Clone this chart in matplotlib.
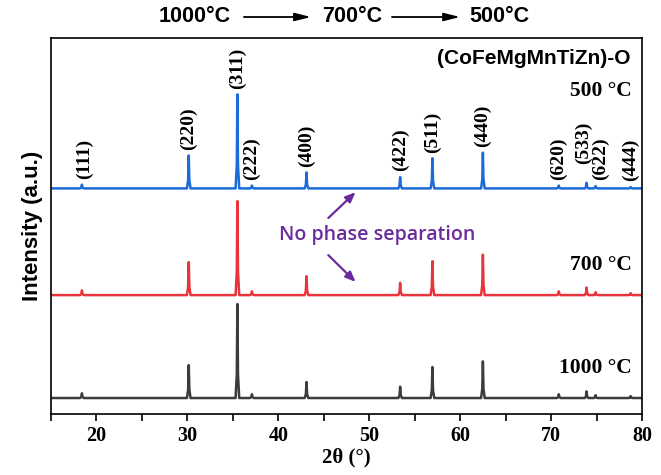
import matplotlib
matplotlib.use("Agg")
import matplotlib.pyplot as plt

# XRD peaks of the spinel (CoFeMgMnTiZn)-O
two_theta = [18.4, 30.15, 35.5, 37.1, 43.1, 53.4, 56.95, 62.5, 70.85, 73.9, 74.9, 78.75]
hkl = ["(111)", "(220)", "(311)", "(222)", "(400)", "(422)", "(511)", "(440)",
       "(620)", "(533)", "(622)", "(444)"]

# relative peak heights, (311) = 100
int_500 = [4, 35, 100, 3, 17, 12, 32, 38, 3, 6, 2.5, 1.5]
int_700 = [5, 35, 100, 4, 20, 13, 36, 43, 4, 8, 3, 2]
int_1000 = [5, 35, 100, 4, 17, 12, 33, 39, 4, 7, 3, 2]

# stacking offsets of the three patterns
offset_1000 = 17
offset_700 = 126.5
offset_500 = 240

temps = ["1000 °C", "700 °C", "500 °C"]

SERIF = "Liberation Serif"
SANS = "Liberation Sans"


def pattern(base, heights, hw=0.2):
    xs, ys = [15], [base]
    for p, h in zip(two_theta, heights):
        xs += [p - hw, p - hw / 3, p, p + hw / 3, p + hw]
        ys += [base, base + h * 0.25, base + h, base + h * 0.25, base]
    xs.append(80)
    ys.append(base)
    return xs, ys


fig = plt.figure(figsize=(6.61, 4.75), dpi=100)
ax = fig.add_axes([51 / 661, 61 / 475, 591 / 661, 376 / 475])

for base, heights, color in [
    (offset_1000, int_1000, "#3c3c3c"),
    (offset_700, int_700, "#e8343a"),
    (offset_500, int_500, "#1c6cd8"),
]:
    xs, ys = pattern(base, heights)
    ax.plot(xs, ys, color=color, lw=1.8)

ax.set_xlim(15, 80)
ax.set_ylim(0, 400)
ax.set_xticks(range(20, 81, 10))
ax.set_xticks(range(15, 81, 5), minor=True)
ax.set_yticks([])
ax.tick_params(axis="x", which="both", direction="out", length=5, width=1.2)
for lab in ax.get_xticklabels():
    lab.set_fontfamily(SERIF)
    lab.set_fontweight("bold")
    lab.set_fontsize(14.5)
for sp in ax.spines.values():
    sp.set_linewidth(1.2)

ax.set_xlabel("2θ (°)", fontfamily=SERIF, fontweight="bold", fontsize=15, labelpad=1)
ax.set_ylabel("Intensity (a.u.)", fontfamily=SANS, fontweight="bold", fontsize=16, labelpad=6)

# hkl labels above the 500 °C pattern
label_shift = {"(533)": (-0.3, 14), "(622)": (0.5, 0), "(111)": (0.3, 0)}
for p, h, name in zip(two_theta, int_500, hkl):
    dx, dy = label_shift.get(name, (0, 0))
    ax.text(p + dx, offset_500 + h + 6 + dy, name, rotation=90, ha="center", va="bottom",
            fontfamily=SERIF, fontweight="bold", fontsize=14)

# temperature labels
for base, lift, t in zip([offset_1000, offset_700, offset_500], [32, 32, 104], temps):
    ax.text(78.9, base + lift, t, ha="right", va="center",
            fontfamily=SERIF, fontweight="bold", fontsize=15.5)

ax.text(78.7, 378, "(CoFeMgMnTiZn)-O", ha="right", va="center",
        fontfamily=SANS, fontweight="bold", fontsize=15)

purple = "#6a2c9c"
ax.text(50.9, 190, "No phase separation", ha="center", va="center",
        fontfamily="Open Sans", fontweight="semibold", fontsize=14, color=purple)
arrow_kw = dict(arrowstyle="-|>,head_length=0.6,head_width=0.25", color=purple, lw=1.6,
                shrinkA=0, shrinkB=0, mutation_scale=10)
ax.annotate("", xy=(48.5, 236), xytext=(45.5, 208.5), arrowprops=arrow_kw)
ax.annotate("", xy=(48.5, 140.5), xytext=(45.5, 169), arrowprops=arrow_kw)

# heating sequence on top
title_y = 1 - 17 / 475
for xc, t in zip([0.295, 0.533, 0.756], ["1000°C", "700°C", "500°C"]):
    fig.text(xc, title_y, t, ha="center", va="center",
             fontfamily=SANS, fontweight="bold", fontsize=15.5)
head = dict(arrowstyle="-|>,head_length=0.8,head_width=0.2", color="black", lw=1.3,
            shrinkA=0, shrinkB=0, mutation_scale=12)
for x0, x1 in [(0.369, 0.4705), (0.593, 0.696)]:
    fig.add_artist(matplotlib.patches.FancyArrowPatch(
        (x0, title_y), (x1, title_y), transform=fig.transFigure, **head))

fig.savefig("out.png", dpi=100)
